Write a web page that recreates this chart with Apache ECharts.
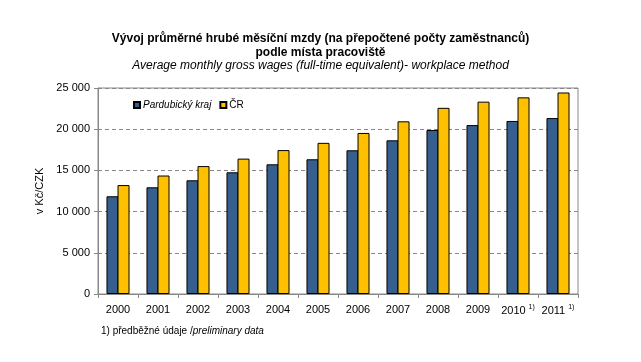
<!DOCTYPE html>
<html><head><meta charset="utf-8">
<script src="https://cdn.jsdelivr.net/npm/echarts@6/dist/echarts.min.js"></script>
<style>html,body{margin:0;padding:0;background:#fff}#c{width:641px;height:362px}</style>
</head><body><div id="c"></div>
<script>
var years = ['2000','2001','2002','2003','2004','2005','2006','2007','2008','2009','2010','2011'];
var yearNotes = ['','','','','','','','','','','1)','1)'];
var pardubicky = [11860, 12950, 13800, 14770, 15740, 16350, 17440, 18650, 19900, 20500, 21000, 21350];
var cr = [13219, 14378, 15524, 16430, 17466, 18344, 19546, 20957, 22592, 23344, 23864, 24455];
var seriesNames = ['Pardubický kraj', 'ČR'];
var titleLines = ['Vývoj průměrné hrubé měsíční mzdy (na přepočtené počty zaměstnanců)', 'podle místa pracoviště'];
var subtitle = 'Average monthly gross wages (full-time equivalent)- workplace method';
var yName = 'v Kč/CZK';
var footnote = ['1) předběžné údaje /', 'preliminary data'];

var chart = echarts.init(document.getElementById('c'), null, {renderer:'canvas'});
var font = 'Liberation Sans, Arial, sans-serif';
chart.setOption({
  animation: false,
  textStyle: {fontFamily: font},
  title: [{
    text: titleLines.join('\n'),
    subtext: subtitle,
    left: 'center', top: 27, itemGap: 0,
    textStyle: {fontFamily: font, fontSize: 12, fontWeight: 'bold', color: '#000', lineHeight: 14},
    subtextStyle: {fontFamily: font, fontSize: 12, fontStyle: 'italic', color: '#000'}
  }, {
    text: '{n|' + footnote[0] + '}{i|' + footnote[1] + '}',
    left: 96, top: 321,
    textStyle: {fontWeight: 'normal', rich: {n: {fontFamily: font, fontSize: 10, fontWeight: 'normal', color: '#000'}, i: {fontFamily: font, fontSize: 10, fontWeight: 'normal', fontStyle: 'italic', color: '#000'}}}
  }],
  legend: {
    left: 128, top: 95, itemWidth: 6, itemHeight: 6, itemGap: 8,
    data: seriesNames,
    icon: 'rect',
    formatter: function(n){ return n === 'ČR' ? '{r|' + n + '}' : '{i|' + n + '}'; },
    textStyle: {fontFamily: font, fontSize: 10, color: '#000', padding: [0,0,0,-2],
      rich: {i: {fontStyle: 'italic', fontSize: 10, fontFamily: font}, r: {fontSize: 10, fontFamily: font}}}
  },
  grid: {left: 98, right: 63, top: 88, bottom: 68, show: true, borderColor: '#888', borderWidth: 1},
  xAxis: {
    type: 'category', data: years,
    axisLine: {lineStyle: {color: '#888'}},
    axisTick: {show: true, alignWithLabel: false, interval: 0, length: 4, lineStyle: {color: '#888'}},
    axisLabel: {
      interval: 0, margin: 10, color: '#000', fontSize: 11, fontFamily: font,
      formatter: function(v, i){ return yearNotes[i] ? v + '{s|' + yearNotes[i] + '}' : v; },
      rich: {s: {fontSize: 7, verticalAlign: 'top', padding: [0,0,6,3], fontFamily: font, color: '#000'}}
    }
  },
  yAxis: {
    type: 'value', min: 0, max: 25000, interval: 5000,
    name: yName, nameLocation: 'middle', nameGap: 46, nameRotate: 90,
    nameTextStyle: {fontFamily: font, fontSize: 11, color: '#000'},
    axisLine: {show: true, lineStyle: {color: '#888'}},
    axisTick: {show: true, inside: false, length: 4, lineStyle: {color: '#888'}},
    axisLabel: {color: '#000', fontSize: 11, fontFamily: font, margin: 8,
      formatter: function(v){ return v === 0 ? '0' : String(v).replace(/\B(?=(\d{3})+(?!\d))/g, ' '); }},
    splitLine: {show: true, lineStyle: {color: '#888', type: [4,3], width: 1}}
  },
  series: [{
    name: seriesNames[0], type: 'bar', data: pardubicky, barWidth: 12, barGap: '-8%',
    itemStyle: {color: '#365E8E', borderColor: '#000', borderWidth: 1}
  }, {
    name: seriesNames[1], type: 'bar', data: cr, barWidth: 12, barGap: '-8%',
    itemStyle: {color: '#FFC000', borderColor: '#000', borderWidth: 1}
  }]
});
</script></body></html>
